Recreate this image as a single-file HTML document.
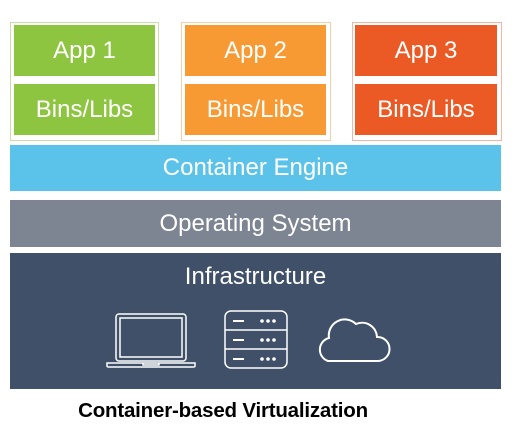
<!DOCTYPE html>
<html><head><style>
html,body{margin:0;padding:0;background:#fff;width:515px;height:433px;overflow:hidden;position:relative;font-family:"Liberation Sans",sans-serif}
.a{position:absolute;box-sizing:border-box}
.t{color:#fff;font-size:24px;display:flex;align-items:center;justify-content:center}
</style></head><body>
<div class="a" style="left:10px;top:22px;width:149px;height:119px;border:1px solid #c6e0a6"></div>
<div class="a t" style="left:14px;top:25px;width:141px;height:51px;background:#8dc540">App 1</div>
<div class="a t" style="left:14px;top:84px;width:141px;height:51px;background:#8dc540">Bins/Libs</div>
<div class="a" style="left:181px;top:22px;width:150px;height:119px;border:1px solid #f7cfa6"></div>
<div class="a t" style="left:185px;top:25px;width:141px;height:51px;background:#f79a33">App 2</div>
<div class="a t" style="left:185px;top:84px;width:141px;height:51px;background:#f79a33">Bins/Libs</div>
<div class="a" style="left:352px;top:22px;width:150px;height:119px;border:1px solid #f3b6a2"></div>
<div class="a t" style="left:355px;top:25px;width:142px;height:51px;background:#eb5a25">App 3</div>
<div class="a t" style="left:355px;top:84px;width:142px;height:51px;background:#eb5a25">Bins/Libs</div>
<div class="a t" style="left:10px;top:145px;width:491px;height:46px;background:#5bc3ea">Container Engine</div>
<div class="a t" style="left:10px;top:200px;width:491px;height:47px;background:#7d8592">Operating System</div>
<div class="a" style="left:10px;top:253px;width:491px;height:136px;background:#3f5068"></div>
<div class="a t" style="left:10px;top:262px;width:491px;height:30px">Infrastructure</div>
<svg class="a" style="left:0;top:0" width="515" height="433" fill="none" stroke="#fff" stroke-width="1.5">
<rect x="116" y="314" width="70" height="47" rx="3"/>
<rect x="120" y="318" width="62" height="39"/>
<path d="M107 363 H195 V366 Q195 367 193 367 H109 Q107 367 107 366 Z"/>
<path d="M143 363 V365 H159 V363"/>
<rect x="225" y="311" width="62" height="57" rx="6"/>
<line x1="225" y1="330" x2="287" y2="330"/><line x1="225" y1="349" x2="287" y2="349"/>
<g stroke-width="2"><line x1="233" y1="321" x2="244" y2="321"/><line x1="233" y1="340" x2="244" y2="340"/><line x1="233" y1="359" x2="244" y2="359"/></g>
<g fill="#fff" stroke="none">
<circle cx="262" cy="321" r="1.8"/><circle cx="268" cy="321" r="1.8"/><circle cx="274" cy="321" r="1.8"/>
<circle cx="262" cy="340" r="1.8"/><circle cx="268" cy="340" r="1.8"/><circle cx="274" cy="340" r="1.8"/>
<circle cx="262" cy="359" r="1.8"/><circle cx="268" cy="359" r="1.8"/><circle cx="274" cy="359" r="1.8"/></g>
<path d="M328 361 H378 A12 12 0 0 0 377 337 A15 15 0 0 0 356 324 A16 16 0 0 0 329 338 A12 12 0 0 0 328 361 Z" stroke-width="2"/>
</svg>
<div class="a" style="left:0;top:399px;width:446px;text-align:center;font-weight:bold;font-size:20.5px;color:#000;letter-spacing:-0.2px">Container-based Virtualization</div>
</body></html>
